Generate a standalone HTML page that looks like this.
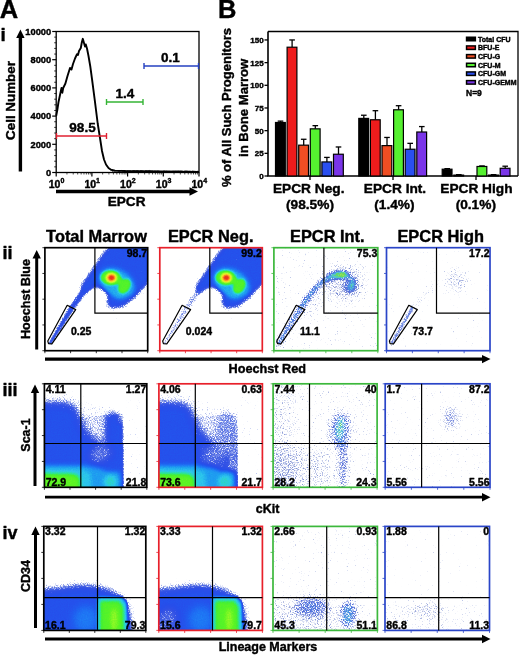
<!DOCTYPE html><html><head><meta charset="utf-8"><title>EPCR figure</title><style>html,body{margin:0;padding:0;background:#fff}svg{display:block}text{stroke:#000;stroke-width:.4px;stroke-linejoin:round}</style></head><body>
<svg width="520" height="656" viewBox="0 0 520 656" font-family="Liberation Sans, Arial, Helvetica, sans-serif" font-weight="bold" fill="#000">
<rect width="520" height="656" fill="#fff"/>
<defs>
<filter id="cm" x="0" y="0" width="1" height="1" color-interpolation-filters="sRGB"><feTurbulence type="fractalNoise" baseFrequency="0.85" numOctaves="2" seed="7" result="n"/><feColorMatrix in="n" type="matrix" values="1 0 0 0 0  1 0 0 0 0  1 0 0 0 0  0 0 0 0 1" result="n1"/><feColorMatrix in="n" type="matrix" values="0 1 0 0 0  0 1 0 0 0  0 1 0 0 0  0 0 0 0 1" result="n2"/><feColorMatrix in="SourceGraphic" type="matrix" values="1 0 0 0 0  1 0 0 0 0  1 0 0 0 0  0 0 0 0 1" result="sm"/><feColorMatrix in="SourceGraphic" type="matrix" values="0 1 0 0 0  0 1 0 0 0  0 1 0 0 0  0 0 0 0 1" result="sc"/><feComposite in="sm" in2="n1" operator="arithmetic" k1="0" k2="1" k3="0.3" k4="-0.15" result="d"/><feColorMatrix in="d" type="matrix" values="0 0 0 0 1  0 0 0 0 1  0 0 0 0 1  1 0 0 0 0" result="da"/><feComponentTransfer in="da" result="m"><feFuncA type="table" tableValues="0 0 0 0.55 1 1 1 1 1 1 1 1 1 1 1 1 1 1 1 1 1"/></feComponentTransfer><feComposite in="sc" in2="n2" operator="arithmetic" k1="0" k2="1" k3="0.04" k4="-0.02" result="dc"/><feComponentTransfer in="dc" result="c"><feFuncR type="table" tableValues="0.490 0.490 0.471 0.392 0.282 0.188 0.149 0.125 0.118 0.118 0.176 0.176 0.275 0.373 0.627 0.882 0.980 0.980 0.941 0.894 0.863"/><feFuncG type="table" tableValues="0.569 0.569 0.549 0.490 0.392 0.314 0.306 0.373 0.471 0.627 0.784 0.894 0.941 0.961 0.980 0.961 0.784 0.510 0.235 0.157 0.118"/><feFuncB type="table" tableValues="0.882 0.882 0.882 0.894 0.894 0.902 0.922 0.941 0.961 0.941 0.922 0.588 0.196 0.137 0.157 0.157 0.157 0.118 0.118 0.118 0.118"/></feComponentTransfer><feComposite in="c" in2="m" operator="in" result="cm"/><feFlood flood-color="#fff" result="w"/><feMerge result="mm"><feMergeNode in="w"/><feMergeNode in="cm"/></feMerge><feGaussianBlur in="mm" stdDeviation="0.4"/></filter>
<filter id="cms" x="0" y="0" width="1" height="1" color-interpolation-filters="sRGB"><feTurbulence type="fractalNoise" baseFrequency="0.85" numOctaves="2" seed="7" result="n"/><feColorMatrix in="n" type="matrix" values="1 0 0 0 0  1 0 0 0 0  1 0 0 0 0  0 0 0 0 1" result="n1"/><feColorMatrix in="n" type="matrix" values="0 1 0 0 0  0 1 0 0 0  0 1 0 0 0  0 0 0 0 1" result="n2"/><feColorMatrix in="SourceGraphic" type="matrix" values="1 0 0 0 0  1 0 0 0 0  1 0 0 0 0  0 0 0 0 1" result="sm"/><feColorMatrix in="SourceGraphic" type="matrix" values="0 1 0 0 0  0 1 0 0 0  0 1 0 0 0  0 0 0 0 1" result="sc"/><feComposite in="sm" in2="n1" operator="arithmetic" k1="0" k2="1" k3="0.42" k4="-0.21" result="d"/><feColorMatrix in="d" type="matrix" values="0 0 0 0 1  0 0 0 0 1  0 0 0 0 1  1 0 0 0 0" result="da"/><feComponentTransfer in="da" result="m"><feFuncA type="table" tableValues="0 0 0 0.5 1 1 1 1 1 1 1 1 1 1 1 1 1 1 1 1 1"/></feComponentTransfer><feComposite in="sc" in2="n2" operator="arithmetic" k1="0" k2="1" k3="0.3" k4="-0.15" result="dc"/><feComponentTransfer in="dc" result="c"><feFuncR type="table" tableValues="0.485 0.485 0.471 0.412 0.329 0.259 0.229 0.212 0.206 0.206 0.250 0.250 0.324 0.397 0.588 0.779 0.853 0.853 0.824 0.788 0.765"/><feFuncG type="table" tableValues="0.554 0.554 0.539 0.495 0.422 0.363 0.357 0.407 0.480 0.598 0.716 0.798 0.833 0.848 0.863 0.848 0.716 0.510 0.304 0.245 0.216"/><feFuncB type="table" tableValues="0.819 0.819 0.819 0.827 0.827 0.833 0.848 0.863 0.877 0.863 0.848 0.598 0.304 0.260 0.275 0.275 0.275 0.245 0.245 0.245 0.245"/></feComponentTransfer><feComposite in="c" in2="m" operator="in" result="cm"/><feFlood flood-color="#fff" result="w"/><feMerge result="mm"><feMergeNode in="w"/><feMergeNode in="cm"/></feMerge><feGaussianBlur in="mm" stdDeviation="0.62"/></filter>
<filter id="b1" x="-50%" y="-50%" width="200%" height="200%" color-interpolation-filters="sRGB"><feGaussianBlur stdDeviation="1"/></filter>
<filter id="b2" x="-50%" y="-50%" width="200%" height="200%" color-interpolation-filters="sRGB"><feGaussianBlur stdDeviation="2"/></filter>
<filter id="b3" x="-50%" y="-50%" width="200%" height="200%" color-interpolation-filters="sRGB"><feGaussianBlur stdDeviation="3"/></filter>
<filter id="b4" x="-50%" y="-50%" width="200%" height="200%" color-interpolation-filters="sRGB"><feGaussianBlur stdDeviation="4"/></filter>
<filter id="b6" x="-50%" y="-50%" width="200%" height="200%" color-interpolation-filters="sRGB"><feGaussianBlur stdDeviation="6"/></filter>
<filter id="b8" x="-50%" y="-50%" width="200%" height="200%" color-interpolation-filters="sRGB"><feGaussianBlur stdDeviation="8"/></filter>
<radialGradient id="rg"><stop offset="0" stop-color="#fff" stop-opacity="1"/><stop offset="0.5" stop-color="#fff" stop-opacity="0.55"/><stop offset="1" stop-color="#fff" stop-opacity="0"/></radialGradient>
</defs>
<text x="-0.3" y="17.5" font-size="25.5" text-anchor="start" >A</text>
<text x="0.6" y="41" font-size="19" text-anchor="start" >i</text>
<rect x="56.2" y="31.5" width="142.8" height="141.0" fill="none" stroke="#000" stroke-width="1.3"/>
<line x1="52.2" y1="31.5" x2="56.2" y2="31.5" stroke="#000" stroke-width="1.2" />
<text x="51.2" y="34.7" font-size="9.3" text-anchor="end" >10000</text>
<line x1="54.2" y1="37.14" x2="56.2" y2="37.14" stroke="#000" stroke-width="0.8" />
<line x1="54.2" y1="42.78" x2="56.2" y2="42.78" stroke="#000" stroke-width="0.8" />
<line x1="54.2" y1="48.42" x2="56.2" y2="48.42" stroke="#000" stroke-width="0.8" />
<line x1="54.2" y1="54.06" x2="56.2" y2="54.06" stroke="#000" stroke-width="0.8" />
<line x1="52.2" y1="59.7" x2="56.2" y2="59.7" stroke="#000" stroke-width="1.2" />
<text x="51.2" y="62.900000000000006" font-size="9.3" text-anchor="end" >8000</text>
<line x1="54.2" y1="65.34" x2="56.2" y2="65.34" stroke="#000" stroke-width="0.8" />
<line x1="54.2" y1="70.98" x2="56.2" y2="70.98" stroke="#000" stroke-width="0.8" />
<line x1="54.2" y1="76.62" x2="56.2" y2="76.62" stroke="#000" stroke-width="0.8" />
<line x1="54.2" y1="82.26" x2="56.2" y2="82.26" stroke="#000" stroke-width="0.8" />
<line x1="52.2" y1="87.9" x2="56.2" y2="87.9" stroke="#000" stroke-width="1.2" />
<text x="51.2" y="91.10000000000001" font-size="9.3" text-anchor="end" >6000</text>
<line x1="54.2" y1="93.54" x2="56.2" y2="93.54" stroke="#000" stroke-width="0.8" />
<line x1="54.2" y1="99.18" x2="56.2" y2="99.18" stroke="#000" stroke-width="0.8" />
<line x1="54.2" y1="104.82000000000001" x2="56.2" y2="104.82000000000001" stroke="#000" stroke-width="0.8" />
<line x1="54.2" y1="110.46000000000001" x2="56.2" y2="110.46000000000001" stroke="#000" stroke-width="0.8" />
<line x1="52.2" y1="116.1" x2="56.2" y2="116.1" stroke="#000" stroke-width="1.2" />
<text x="51.2" y="119.3" font-size="9.3" text-anchor="end" >4000</text>
<line x1="54.2" y1="121.74" x2="56.2" y2="121.74" stroke="#000" stroke-width="0.8" />
<line x1="54.2" y1="127.38" x2="56.2" y2="127.38" stroke="#000" stroke-width="0.8" />
<line x1="54.2" y1="133.01999999999998" x2="56.2" y2="133.01999999999998" stroke="#000" stroke-width="0.8" />
<line x1="54.2" y1="138.66" x2="56.2" y2="138.66" stroke="#000" stroke-width="0.8" />
<line x1="52.2" y1="144.3" x2="56.2" y2="144.3" stroke="#000" stroke-width="1.2" />
<text x="51.2" y="147.5" font-size="9.3" text-anchor="end" >2000</text>
<line x1="54.2" y1="149.94" x2="56.2" y2="149.94" stroke="#000" stroke-width="0.8" />
<line x1="54.2" y1="155.58" x2="56.2" y2="155.58" stroke="#000" stroke-width="0.8" />
<line x1="54.2" y1="161.22" x2="56.2" y2="161.22" stroke="#000" stroke-width="0.8" />
<line x1="54.2" y1="166.86" x2="56.2" y2="166.86" stroke="#000" stroke-width="0.8" />
<line x1="52.2" y1="172.5" x2="56.2" y2="172.5" stroke="#000" stroke-width="1.2" />
<text x="51.2" y="175.7" font-size="9.3" text-anchor="end" >0</text>
<line x1="56.2" y1="172.5" x2="56.2" y2="176.5" stroke="#000" stroke-width="1.2" />
<text x="56.5" y="187.7" font-size="10.5" text-anchor="middle">10<tspan dy="-4.5" font-size="7">0</tspan></text>
<line x1="66.94677084520413" y1="172.5" x2="66.94677084520413" y2="174.5" stroke="#000" stroke-width="0.7" />
<line x1="73.23322879349195" y1="172.5" x2="73.23322879349195" y2="174.5" stroke="#000" stroke-width="0.7" />
<line x1="77.69354169040827" y1="172.5" x2="77.69354169040827" y2="174.5" stroke="#000" stroke-width="0.7" />
<line x1="81.15322915479588" y1="172.5" x2="81.15322915479588" y2="174.5" stroke="#000" stroke-width="0.7" />
<line x1="83.97999963869609" y1="172.5" x2="83.97999963869609" y2="174.5" stroke="#000" stroke-width="0.7" />
<line x1="86.37000002850897" y1="172.5" x2="86.37000002850897" y2="174.5" stroke="#000" stroke-width="0.7" />
<line x1="88.44031253561239" y1="172.5" x2="88.44031253561239" y2="174.5" stroke="#000" stroke-width="0.7" />
<line x1="90.2664575869839" y1="172.5" x2="90.2664575869839" y2="174.5" stroke="#000" stroke-width="0.7" />
<line x1="91.9" y1="172.5" x2="91.9" y2="176.5" stroke="#000" stroke-width="1.2" />
<text x="92.2" y="187.7" font-size="10.5" text-anchor="middle">10<tspan dy="-4.5" font-size="7">1</tspan></text>
<line x1="102.64677084520413" y1="172.5" x2="102.64677084520413" y2="174.5" stroke="#000" stroke-width="0.7" />
<line x1="108.93322879349196" y1="172.5" x2="108.93322879349196" y2="174.5" stroke="#000" stroke-width="0.7" />
<line x1="113.39354169040827" y1="172.5" x2="113.39354169040827" y2="174.5" stroke="#000" stroke-width="0.7" />
<line x1="116.85322915479588" y1="172.5" x2="116.85322915479588" y2="174.5" stroke="#000" stroke-width="0.7" />
<line x1="119.67999963869609" y1="172.5" x2="119.67999963869609" y2="174.5" stroke="#000" stroke-width="0.7" />
<line x1="122.07000002850897" y1="172.5" x2="122.07000002850897" y2="174.5" stroke="#000" stroke-width="0.7" />
<line x1="124.1403125356124" y1="172.5" x2="124.1403125356124" y2="174.5" stroke="#000" stroke-width="0.7" />
<line x1="125.9664575869839" y1="172.5" x2="125.9664575869839" y2="174.5" stroke="#000" stroke-width="0.7" />
<line x1="127.60000000000001" y1="172.5" x2="127.60000000000001" y2="176.5" stroke="#000" stroke-width="1.2" />
<text x="127.9" y="187.7" font-size="10.5" text-anchor="middle">10<tspan dy="-4.5" font-size="7">2</tspan></text>
<line x1="138.34677084520413" y1="172.5" x2="138.34677084520413" y2="174.5" stroke="#000" stroke-width="0.7" />
<line x1="144.63322879349195" y1="172.5" x2="144.63322879349195" y2="174.5" stroke="#000" stroke-width="0.7" />
<line x1="149.09354169040827" y1="172.5" x2="149.09354169040827" y2="174.5" stroke="#000" stroke-width="0.7" />
<line x1="152.55322915479587" y1="172.5" x2="152.55322915479587" y2="174.5" stroke="#000" stroke-width="0.7" />
<line x1="155.3799996386961" y1="172.5" x2="155.3799996386961" y2="174.5" stroke="#000" stroke-width="0.7" />
<line x1="157.77000002850897" y1="172.5" x2="157.77000002850897" y2="174.5" stroke="#000" stroke-width="0.7" />
<line x1="159.84031253561238" y1="172.5" x2="159.84031253561238" y2="174.5" stroke="#000" stroke-width="0.7" />
<line x1="161.6664575869839" y1="172.5" x2="161.6664575869839" y2="174.5" stroke="#000" stroke-width="0.7" />
<line x1="163.3" y1="172.5" x2="163.3" y2="176.5" stroke="#000" stroke-width="1.2" />
<text x="163.60000000000002" y="187.7" font-size="10.5" text-anchor="middle">10<tspan dy="-4.5" font-size="7">3</tspan></text>
<line x1="174.04677084520415" y1="172.5" x2="174.04677084520415" y2="174.5" stroke="#000" stroke-width="0.7" />
<line x1="180.33322879349197" y1="172.5" x2="180.33322879349197" y2="174.5" stroke="#000" stroke-width="0.7" />
<line x1="184.79354169040826" y1="172.5" x2="184.79354169040826" y2="174.5" stroke="#000" stroke-width="0.7" />
<line x1="188.2532291547959" y1="172.5" x2="188.2532291547959" y2="174.5" stroke="#000" stroke-width="0.7" />
<line x1="191.07999963869608" y1="172.5" x2="191.07999963869608" y2="174.5" stroke="#000" stroke-width="0.7" />
<line x1="193.470000028509" y1="172.5" x2="193.470000028509" y2="174.5" stroke="#000" stroke-width="0.7" />
<line x1="195.5403125356124" y1="172.5" x2="195.5403125356124" y2="174.5" stroke="#000" stroke-width="0.7" />
<line x1="197.36645758698393" y1="172.5" x2="197.36645758698393" y2="174.5" stroke="#000" stroke-width="0.7" />
<line x1="199.0" y1="172.5" x2="199.0" y2="176.5" stroke="#000" stroke-width="1.2" />
<text x="199.3" y="187.7" font-size="10.5" text-anchor="middle">10<tspan dy="-4.5" font-size="7">4</tspan></text>
<polyline fill="none" stroke="#000" stroke-width="1.9" stroke-linejoin="round" points="56.2,115.8 57.3,110 58.5,102 60,95 61.5,88 62.3,92.7 63.2,88 65.4,83.5 67.5,76 70,68 71.5,69.6 73,64 75,58.5 77,54.2 78,55 79,51 80.8,48 81.8,42.5 82.8,38.8 84,43 85,46.5 85.8,44.5 87,48.5 88.5,56 90.3,66.5 92,79 94.6,98.8 97.7,123.5 100,138 102,151 104,159.5 106,164.5 108.5,168 111,169.8 115,170.6 125,171 140,171.2 160,171.5 199,172"/>
<polyline fill="none" stroke="#000" stroke-width="0.8" points="112.0,171.3 113.3,170.9 114.6,171.2 115.9,170.9 117.2,170.8 118.5,171.5 119.8,171.6 121.1,170.6 122.4,171.3 123.7,171.3 125.0,170.4 126.3,171.0 127.6,170.6 128.9,171.0 130.2,170.8 131.5,171.4 132.8,170.8 134.1,170.6 135.4,171.0 136.7,170.7 138.0,170.8 139.3,171.5 140.6,170.7 141.9,170.9 143.2,171.2 144.5,171.6 145.8,170.6 147.1,171.0 148.4,170.7 149.7,170.5 151.0,171.2 152.3,171.0 153.6,171.4 154.9,171.1 156.2,171.3 157.5,171.0 158.8,171.1 160.1,171.5 161.4,171.5 162.7,171.5 164.0,171.0 165.3,171.3 166.6,171.2 167.9,171.4 169.2,171.3 170.5,171.4 171.8,171.4 173.1,171.2 174.4,171.2 175.7,171.1 177.0,171.2 178.3,171.0 179.6,171.1 180.9,171.0 182.2,171.2 183.5,171.5 184.8,171.1 186.1,171.0 187.4,171.1 188.7,171.3 190.0,171.2 191.3,171.5 192.6,171.1 193.9,171.3 195.2,171.4 196.5,171.6 197.8,171.1"/>
<line x1="56.5" y1="136" x2="106.5" y2="136" stroke="#e02030" stroke-width="1.7" />
<line x1="56.5" y1="133" x2="56.5" y2="139" stroke="#e02030" stroke-width="1.4" />
<line x1="106.5" y1="133" x2="106.5" y2="139" stroke="#e02030" stroke-width="1.4" />
<text x="82.5" y="132.4" font-size="13.5" text-anchor="middle" >98.5</text>
<line x1="106.5" y1="102" x2="143" y2="102" stroke="#35b535" stroke-width="1.7" />
<line x1="106.5" y1="99" x2="106.5" y2="105" stroke="#35b535" stroke-width="1.4" />
<line x1="143" y1="99" x2="143" y2="105" stroke="#35b535" stroke-width="1.4" />
<text x="125" y="98.4" font-size="13.5" text-anchor="middle" >1.4</text>
<line x1="144" y1="66" x2="198.5" y2="66" stroke="#2540c0" stroke-width="1.7" />
<line x1="144" y1="63" x2="144" y2="69" stroke="#2540c0" stroke-width="1.4" />
<line x1="198.5" y1="63" x2="198.5" y2="69" stroke="#2540c0" stroke-width="1.4" />
<text x="170.5" y="62.4" font-size="13.5" text-anchor="middle" >0.1</text>
<line x1="20.4" y1="171.5" x2="20.4" y2="37.0" stroke="#000" stroke-width="3.4" />
<polygon points="20.4,29.5 16.2,38.0 24.599999999999998,38.0" fill="#000"/>
<line x1="56" y1="191.5" x2="190.5" y2="191.5" stroke="#000" stroke-width="3.4" />
<polygon points="198,191.5 189.5,187.3 189.5,195.7" fill="#000"/>
<text x="126.6" y="205.5" font-size="13.6" text-anchor="middle" >EPCR</text>
<text transform="translate(15.3 100.5) rotate(-90)" font-size="13.4" text-anchor="middle">Cell Number</text>
<text x="218" y="17.5" font-size="25.5" text-anchor="start" >B</text>
<path d="M268,31.5 H518 V176" fill="none" stroke="#000" stroke-width="1.3"/>
<line x1="268" y1="31.5" x2="268" y2="176" stroke="#000" stroke-width="1.6" />
<line x1="267.2" y1="176" x2="518" y2="176" stroke="#000" stroke-width="1.6" />
<line x1="264.5" y1="176.0" x2="268" y2="176.0" stroke="#000" stroke-width="1.3" />
<text x="263.7" y="179.0" font-size="8" text-anchor="end" >0</text>
<line x1="264.5" y1="153.325" x2="268" y2="153.325" stroke="#000" stroke-width="1.3" />
<text x="263.7" y="156.325" font-size="8" text-anchor="end" >25</text>
<line x1="264.5" y1="130.65" x2="268" y2="130.65" stroke="#000" stroke-width="1.3" />
<text x="263.7" y="133.65" font-size="8" text-anchor="end" >50</text>
<line x1="264.5" y1="107.975" x2="268" y2="107.975" stroke="#000" stroke-width="1.3" />
<text x="263.7" y="110.975" font-size="8" text-anchor="end" >75</text>
<line x1="264.5" y1="85.3" x2="268" y2="85.3" stroke="#000" stroke-width="1.3" />
<text x="263.7" y="88.3" font-size="8" text-anchor="end" >100</text>
<line x1="264.5" y1="62.625" x2="268" y2="62.625" stroke="#000" stroke-width="1.3" />
<text x="263.7" y="65.625" font-size="8" text-anchor="end" >125</text>
<line x1="264.5" y1="39.94999999999999" x2="268" y2="39.94999999999999" stroke="#000" stroke-width="1.3" />
<text x="263.7" y="42.94999999999999" font-size="8" text-anchor="end" >150</text>
<line x1="280.5" y1="122.487" x2="280.5" y2="121.1265" stroke="#000" stroke-width="1.3" />
<line x1="277.7" y1="121.1265" x2="283.3" y2="121.1265" stroke="#000" stroke-width="1.3" />
<rect x="275.50" y="122.49" width="9.8" height="53.51" fill="#000000" stroke="#000" stroke-width="1.2"/>
<line x1="292.1" y1="47.20599999999999" x2="292.1" y2="39.94999999999999" stroke="#000" stroke-width="1.3" />
<line x1="289.3" y1="39.94999999999999" x2="294.90000000000003" y2="39.94999999999999" stroke="#000" stroke-width="1.3" />
<rect x="287.10" y="47.21" width="9.8" height="128.79" fill="#ee1c1c" stroke="#000" stroke-width="1.2"/>
<line x1="303.7" y1="145.162" x2="303.7" y2="139.2665" stroke="#000" stroke-width="1.3" />
<line x1="300.9" y1="139.2665" x2="306.5" y2="139.2665" stroke="#000" stroke-width="1.3" />
<rect x="298.70" y="145.16" width="9.8" height="30.84" fill="#f04e23" stroke="#000" stroke-width="1.2"/>
<line x1="315.3" y1="128.836" x2="315.3" y2="125.66149999999999" stroke="#000" stroke-width="1.3" />
<line x1="312.5" y1="125.66149999999999" x2="318.1" y2="125.66149999999999" stroke="#000" stroke-width="1.3" />
<rect x="310.30" y="128.84" width="9.8" height="47.16" fill="#55f030" stroke="#000" stroke-width="1.2"/>
<line x1="326.9" y1="161.9415" x2="326.9" y2="157.4065" stroke="#000" stroke-width="1.3" />
<line x1="324.09999999999997" y1="157.4065" x2="329.7" y2="157.4065" stroke="#000" stroke-width="1.3" />
<rect x="321.90" y="161.94" width="9.8" height="14.06" fill="#2a4ff0" stroke="#000" stroke-width="1.2"/>
<line x1="338.5" y1="154.232" x2="338.5" y2="146.976" stroke="#000" stroke-width="1.3" />
<line x1="335.7" y1="146.976" x2="341.3" y2="146.976" stroke="#000" stroke-width="1.3" />
<rect x="333.50" y="154.23" width="9.8" height="21.77" fill="#7a35e8" stroke="#000" stroke-width="1.2"/>
<line x1="363.8" y1="118.40549999999999" x2="363.8" y2="115.231" stroke="#000" stroke-width="1.3" />
<line x1="361.0" y1="115.231" x2="366.6" y2="115.231" stroke="#000" stroke-width="1.3" />
<rect x="358.80" y="118.41" width="9.8" height="57.59" fill="#000000" stroke="#000" stroke-width="1.2"/>
<line x1="375.40000000000003" y1="119.76599999999999" x2="375.40000000000003" y2="110.696" stroke="#000" stroke-width="1.3" />
<line x1="372.6" y1="110.696" x2="378.20000000000005" y2="110.696" stroke="#000" stroke-width="1.3" />
<rect x="370.40" y="119.77" width="9.8" height="56.23" fill="#ee1c1c" stroke="#000" stroke-width="1.2"/>
<line x1="387.0" y1="145.6155" x2="387.0" y2="137.4525" stroke="#000" stroke-width="1.3" />
<line x1="384.2" y1="137.4525" x2="389.8" y2="137.4525" stroke="#000" stroke-width="1.3" />
<rect x="382.00" y="145.62" width="9.8" height="30.38" fill="#f04e23" stroke="#000" stroke-width="1.2"/>
<line x1="398.6" y1="109.789" x2="398.6" y2="105.7075" stroke="#000" stroke-width="1.3" />
<line x1="395.8" y1="105.7075" x2="401.40000000000003" y2="105.7075" stroke="#000" stroke-width="1.3" />
<rect x="393.60" y="109.79" width="9.8" height="66.21" fill="#55f030" stroke="#000" stroke-width="1.2"/>
<line x1="410.2" y1="149.24349999999998" x2="410.2" y2="143.348" stroke="#000" stroke-width="1.3" />
<line x1="407.4" y1="143.348" x2="413.0" y2="143.348" stroke="#000" stroke-width="1.3" />
<rect x="405.20" y="149.24" width="9.8" height="26.76" fill="#2a4ff0" stroke="#000" stroke-width="1.2"/>
<line x1="421.8" y1="132.0105" x2="421.8" y2="126.5685" stroke="#000" stroke-width="1.3" />
<line x1="419.0" y1="126.5685" x2="424.6" y2="126.5685" stroke="#000" stroke-width="1.3" />
<rect x="416.80" y="132.01" width="9.8" height="43.99" fill="#7a35e8" stroke="#000" stroke-width="1.2"/>
<line x1="447.2" y1="169.1975" x2="447.2" y2="168.6533" stroke="#000" stroke-width="1.3" />
<line x1="444.4" y1="168.6533" x2="450.0" y2="168.6533" stroke="#000" stroke-width="1.3" />
<rect x="442.20" y="169.20" width="9.8" height="6.80" fill="#000000" stroke="#000" stroke-width="1.2"/>
<line x1="458.8" y1="175.093" x2="458.8" y2="174.6395" stroke="#000" stroke-width="1.3" />
<line x1="456.0" y1="174.6395" x2="461.6" y2="174.6395" stroke="#000" stroke-width="1.3" />
<rect x="453.80" y="175.09" width="9.8" height="0.91" fill="#ee1c1c" stroke="#000" stroke-width="1.2"/>
<line x1="482.0" y1="166.4765" x2="482.0" y2="165.9323" stroke="#000" stroke-width="1.3" />
<line x1="479.2" y1="165.9323" x2="484.8" y2="165.9323" stroke="#000" stroke-width="1.3" />
<rect x="477.00" y="166.48" width="9.8" height="9.52" fill="#55f030" stroke="#000" stroke-width="1.2"/>
<line x1="493.59999999999997" y1="175.093" x2="493.59999999999997" y2="174.6395" stroke="#000" stroke-width="1.3" />
<line x1="490.79999999999995" y1="174.6395" x2="496.4" y2="174.6395" stroke="#000" stroke-width="1.3" />
<rect x="488.60" y="175.09" width="9.8" height="0.91" fill="#2a4ff0" stroke="#000" stroke-width="1.2"/>
<line x1="505.2" y1="168.2905" x2="505.2" y2="166.2044" stroke="#000" stroke-width="1.3" />
<line x1="502.4" y1="166.2044" x2="508.0" y2="166.2044" stroke="#000" stroke-width="1.3" />
<rect x="500.20" y="168.29" width="9.8" height="7.71" fill="#7a35e8" stroke="#000" stroke-width="1.2"/>
<line x1="310" y1="176" x2="310" y2="180" stroke="#000" stroke-width="1.3" />
<line x1="393" y1="176" x2="393" y2="180" stroke="#000" stroke-width="1.3" />
<line x1="476" y1="176" x2="476" y2="180" stroke="#000" stroke-width="1.3" />
<text x="308.7" y="192.7" font-size="13.7" text-anchor="middle" >EPCR Neg.</text>
<text x="310" y="209.2" font-size="13.7" text-anchor="middle" >(98.5%)</text>
<text x="395" y="192.7" font-size="13.7" text-anchor="middle" >EPCR Int.</text>
<text x="394.4" y="209.2" font-size="13.7" text-anchor="middle" >(1.4%)</text>
<text x="476.4" y="192.7" font-size="13.7" text-anchor="middle" >EPCR High</text>
<text x="475.8" y="209.2" font-size="13.7" text-anchor="middle" >(0.1%)</text>
<text transform="translate(231.3 107.5) rotate(-90)" font-size="13" text-anchor="middle">% of All Such Progenitors</text>
<text transform="translate(248.3 107.8) rotate(-90)" font-size="13.1" text-anchor="middle">in Bone Marrow</text>
<rect x="465.8" y="36.50" width="10.3" height="5" fill="#000"/>
<text x="478" y="41.5" font-size="7" text-anchor="start" >Total CFU</text>
<rect x="465.8" y="45.17" width="10.3" height="5" fill="#000"/>
<rect x="467.3" y="46.67" width="7.3" height="2" fill="#ee1c1c"/>
<text x="478" y="50.17" font-size="7" text-anchor="start" >BFU-E</text>
<rect x="465.8" y="53.84" width="10.3" height="5" fill="#000"/>
<rect x="467.3" y="55.34" width="7.3" height="2" fill="#f04e23"/>
<text x="478" y="58.84" font-size="7" text-anchor="start" >CFU-G</text>
<rect x="465.8" y="62.51" width="10.3" height="5" fill="#000"/>
<rect x="467.3" y="64.01" width="7.3" height="2" fill="#55f030"/>
<text x="478" y="67.50999999999999" font-size="7" text-anchor="start" >CFU-M</text>
<rect x="465.8" y="71.18" width="10.3" height="5" fill="#000"/>
<rect x="467.3" y="72.68" width="7.3" height="2" fill="#2a4ff0"/>
<text x="478" y="76.18" font-size="7" text-anchor="start" >CFU-GM</text>
<rect x="465.8" y="79.85" width="10.3" height="5" fill="#000"/>
<rect x="467.3" y="81.35" width="7.3" height="2" fill="#7a35e8"/>
<text x="478" y="84.85" font-size="7" text-anchor="start" >CFU-GEMM</text>
<text x="466" y="96" font-size="8.5" text-anchor="start" >N=9</text>
<text x="2.5" y="259" font-size="18" text-anchor="start" >ii</text>
<line x1="36.7" y1="349.5" x2="36.7" y2="257.5" stroke="#000" stroke-width="3" />
<polygon points="36.7,250 32.5,258.5 40.900000000000006,258.5" fill="#000"/>
<text transform="translate(30 299) rotate(-90)" font-size="12.5" text-anchor="middle">Hoechst Blue</text>
<line x1="45" y1="359.1" x2="483.0" y2="359.1" stroke="#000" stroke-width="3.2" />
<polygon points="490.5,359.1 482.0,354.90000000000003 482.0,363.3" fill="#000"/>
<text x="267.3" y="372.9" font-size="12.7" text-anchor="middle" >Hoechst Red</text>
<text x="96.5" y="242.2" font-size="16.4" text-anchor="middle" >Total Marrow</text>
<text x="210.7" y="242.2" font-size="16.4" text-anchor="middle" >EPCR Neg.</text>
<text x="327.3" y="242.2" font-size="16.4" text-anchor="middle" >EPCR Int.</text>
<text x="440.7" y="242.2" font-size="16.4" text-anchor="middle" >EPCR High</text>
<svg x="44.9" y="247.7" width="102.8" height="103" viewBox="0 0 102.8 103" overflow="hidden" opacity="1"><g filter="url(#cm)"><rect x="-5" y="-5" width="112.8" height="113" fill="#000"/>
<polygon points="3,95.5 24.5,58.5 34.5,44 42,35 48,39 39.5,48 29.5,61.5 6,97.5" fill="rgb(68,68,68)" opacity="1" filter="url(#b1)"/>
<polygon points="38,46 46,41 56,39.5 63,45 61.5,56 66,61 78,59.5 90,50 106,33 106,-5 67,-5 57.5,6 48.5,19.5 40,31.5 35,40" fill="rgb(79,79,79)" opacity="1" filter="url(#b2)"/>
<ellipse cx="72" cy="35" rx="19.5" ry="13.5" fill="rgb(119,119,119)" transform="rotate(30 72 35)" filter="url(#b2)"/>
<ellipse cx="74.5" cy="43.5" rx="7.5" ry="7.5" fill="rgb(119,119,119)" transform="rotate(0 74.5 43.5)" filter="url(#b2)"/>
<ellipse cx="66" cy="30" rx="10.5" ry="7.6" fill="rgb(160,160,160)" transform="rotate(5 66 30)" filter="url(#b1)"/>
<ellipse cx="79.5" cy="38.5" rx="5.6" ry="8" fill="rgb(160,160,160)" transform="rotate(32 79.5 38.5)" filter="url(#b1)"/>
<ellipse cx="74.5" cy="33.5" rx="4.5" ry="3.6" fill="rgb(160,160,160)" transform="rotate(35 74.5 33.5)" filter="url(#b1)"/>
<ellipse cx="66.5" cy="30" rx="6" ry="5.2" fill="rgb(196,196,196)" transform="rotate(0 66.5 30)" filter="url(#b1)"/>
<ellipse cx="66.5" cy="30" rx="3.1" ry="2.7" fill="rgb(237,237,237)" transform="rotate(0 66.5 30)" filter="url(#b1)"/>
</g></svg>
<line x1="42.4" y1="247.7" x2="44.9" y2="247.7" stroke="#000" stroke-width="0.8" />
<line x1="44.9" y1="350.7" x2="44.9" y2="353.2" stroke="#000" stroke-width="0.8" />
<line x1="42.4" y1="273.45" x2="44.9" y2="273.45" stroke="#000" stroke-width="0.8" />
<line x1="70.6" y1="350.7" x2="70.6" y2="353.2" stroke="#000" stroke-width="0.8" />
<line x1="42.4" y1="299.2" x2="44.9" y2="299.2" stroke="#000" stroke-width="0.8" />
<line x1="96.3" y1="350.7" x2="96.3" y2="353.2" stroke="#000" stroke-width="0.8" />
<line x1="42.4" y1="324.95" x2="44.9" y2="324.95" stroke="#000" stroke-width="0.8" />
<line x1="122.0" y1="350.7" x2="122.0" y2="353.2" stroke="#000" stroke-width="0.8" />
<line x1="42.4" y1="350.7" x2="44.9" y2="350.7" stroke="#000" stroke-width="0.8" />
<line x1="147.7" y1="350.7" x2="147.7" y2="353.2" stroke="#000" stroke-width="0.8" />
<rect x="44.9" y="247.7" width="102.8" height="103" fill="none" stroke="#000" stroke-width="1.7"/>
<path d="M94.9,247.7 V313.2 H147.7" fill="none" stroke="#000" stroke-width="1.2"/>
<polygon points="67.2,305.3 75.7,309.6 51.9,343.8 48.5,343.6 47.8,341" fill="none" stroke="#000" stroke-width="1.2" stroke-linejoin="round"/>
<text x="147.2" y="257" font-size="10.5" text-anchor="end" >98.7</text>
<text x="70.9" y="335.3" font-size="10.5" text-anchor="start" >0.25</text>
<svg x="159.8" y="247.7" width="102.5" height="103" viewBox="0 0 102.5 103" overflow="hidden" opacity="1"><g filter="url(#cm)"><rect x="-5" y="-5" width="112.5" height="113" fill="#000"/>
<polygon points="3,95.5 24.5,58.5 34.5,44 42,35 48,39 39.5,48 29.5,61.5 6,97.5" fill="rgb(37,37,37)" opacity="1" filter="url(#b1)"/>
<polygon points="38,46 46,41 56,39.5 63,45 61.5,56 66,61 78,59.5 90,50 106,33 106,-5 67,-5 57.5,6 48.5,19.5 40,31.5 35,40" fill="rgb(79,79,79)" opacity="1" filter="url(#b2)"/>
<ellipse cx="72" cy="35" rx="19.5" ry="13.5" fill="rgb(119,119,119)" transform="rotate(30 72 35)" filter="url(#b2)"/>
<ellipse cx="74.5" cy="43.5" rx="7.5" ry="7.5" fill="rgb(119,119,119)" transform="rotate(0 74.5 43.5)" filter="url(#b2)"/>
<ellipse cx="66" cy="30" rx="10.5" ry="7.6" fill="rgb(160,160,160)" transform="rotate(5 66 30)" filter="url(#b1)"/>
<ellipse cx="79.5" cy="38.5" rx="5.6" ry="8" fill="rgb(160,160,160)" transform="rotate(32 79.5 38.5)" filter="url(#b1)"/>
<ellipse cx="74.5" cy="33.5" rx="4.5" ry="3.6" fill="rgb(160,160,160)" transform="rotate(35 74.5 33.5)" filter="url(#b1)"/>
<ellipse cx="66.5" cy="30" rx="6" ry="5.2" fill="rgb(196,196,196)" transform="rotate(0 66.5 30)" filter="url(#b1)"/>
<ellipse cx="66.5" cy="30" rx="3.1" ry="2.7" fill="rgb(237,237,237)" transform="rotate(0 66.5 30)" filter="url(#b1)"/>
</g></svg>
<line x1="157.3" y1="247.7" x2="159.8" y2="247.7" stroke="#e8202a" stroke-width="0.8" />
<line x1="159.8" y1="350.7" x2="159.8" y2="353.2" stroke="#e8202a" stroke-width="0.8" />
<line x1="157.3" y1="273.45" x2="159.8" y2="273.45" stroke="#e8202a" stroke-width="0.8" />
<line x1="185.425" y1="350.7" x2="185.425" y2="353.2" stroke="#e8202a" stroke-width="0.8" />
<line x1="157.3" y1="299.2" x2="159.8" y2="299.2" stroke="#e8202a" stroke-width="0.8" />
<line x1="211.05" y1="350.7" x2="211.05" y2="353.2" stroke="#e8202a" stroke-width="0.8" />
<line x1="157.3" y1="324.95" x2="159.8" y2="324.95" stroke="#e8202a" stroke-width="0.8" />
<line x1="236.675" y1="350.7" x2="236.675" y2="353.2" stroke="#e8202a" stroke-width="0.8" />
<line x1="157.3" y1="350.7" x2="159.8" y2="350.7" stroke="#e8202a" stroke-width="0.8" />
<line x1="262.3" y1="350.7" x2="262.3" y2="353.2" stroke="#e8202a" stroke-width="0.8" />
<rect x="159.8" y="247.7" width="102.5" height="103" fill="none" stroke="#e8202a" stroke-width="1.7"/>
<path d="M209.8,247.7 V313.2 H262.3" fill="none" stroke="#000" stroke-width="1.2"/>
<polygon points="182.10000000000002,305.3 190.60000000000002,309.6 166.8,343.8 163.4,343.6 162.70000000000002,341" fill="none" stroke="#000" stroke-width="1.2" stroke-linejoin="round"/>
<text x="261.8" y="257" font-size="10.5" text-anchor="end" >99.2</text>
<text x="185.8" y="335.3" font-size="10.5" text-anchor="start" >0.024</text>
<svg x="273.9" y="247.7" width="103.9" height="103" viewBox="0 0 103.9 103" overflow="hidden" opacity="0.88"><g filter="url(#cms)"><rect x="-5" y="-5" width="113.9" height="113" fill="#000"/>
<polygon points="-5,-5 110,-5 110,110 -5,110" fill="rgb(255,255,255)" opacity="0.02"/>
<path d="M4.5,96 C20,72 30,52 42,40 S60,27 70,27" fill="none" stroke="rgb(116,255,0)" stroke-opacity="0.46" stroke-width="5.5" stroke-linecap="round" filter="url(#b2)"/>
<path d="M66,27 C77,27 83,35 77,40" fill="none" stroke="rgb(91,255,0)" stroke-opacity="0.42" stroke-width="5" stroke-linecap="round" filter="url(#b2)"/>
<ellipse cx="64" cy="27" rx="9" ry="4" fill="rgb(115,255,0)" opacity="0.22" transform="rotate(-5 64 27)" filter="url(#b2)"/>
<ellipse cx="75.5" cy="39.5" rx="6.5" ry="6" fill="rgb(162,255,0)" opacity="0.22" transform="rotate(30 75.5 39.5)" filter="url(#b2)"/>
<ellipse cx="70" cy="35" rx="21" ry="18" fill="#fff" opacity="0.095" transform="rotate(0 70 35)" filter="url(#b4)"/>
<ellipse cx="40" cy="55" rx="18" ry="8" fill="#fff" opacity="0.05" transform="rotate(-50 40 55)" filter="url(#b4)"/>
</g></svg>
<line x1="271.4" y1="247.7" x2="273.9" y2="247.7" stroke="#3cb83c" stroke-width="0.8" />
<line x1="273.9" y1="350.7" x2="273.9" y2="353.2" stroke="#3cb83c" stroke-width="0.8" />
<line x1="271.4" y1="273.45" x2="273.9" y2="273.45" stroke="#3cb83c" stroke-width="0.8" />
<line x1="299.875" y1="350.7" x2="299.875" y2="353.2" stroke="#3cb83c" stroke-width="0.8" />
<line x1="271.4" y1="299.2" x2="273.9" y2="299.2" stroke="#3cb83c" stroke-width="0.8" />
<line x1="325.84999999999997" y1="350.7" x2="325.84999999999997" y2="353.2" stroke="#3cb83c" stroke-width="0.8" />
<line x1="271.4" y1="324.95" x2="273.9" y2="324.95" stroke="#3cb83c" stroke-width="0.8" />
<line x1="351.825" y1="350.7" x2="351.825" y2="353.2" stroke="#3cb83c" stroke-width="0.8" />
<line x1="271.4" y1="350.7" x2="273.9" y2="350.7" stroke="#3cb83c" stroke-width="0.8" />
<line x1="377.79999999999995" y1="350.7" x2="377.79999999999995" y2="353.2" stroke="#3cb83c" stroke-width="0.8" />
<rect x="273.9" y="247.7" width="103.9" height="103" fill="none" stroke="#3cb83c" stroke-width="1.7"/>
<path d="M323.9,247.7 V313.2 H377.79999999999995" fill="none" stroke="#000" stroke-width="1.2"/>
<polygon points="296.2,305.3 304.7,309.6 280.9,343.8 277.5,343.6 276.79999999999995,341" fill="none" stroke="#000" stroke-width="1.2" stroke-linejoin="round"/>
<text x="377.29999999999995" y="257" font-size="10.5" text-anchor="end" >75.3</text>
<text x="299.9" y="335.3" font-size="10.5" text-anchor="start" >11.1</text>
<svg x="386.5" y="247.7" width="103.5" height="103" viewBox="0 0 103.5 103" overflow="hidden" opacity="0.72"><g filter="url(#cms)"><rect x="-5" y="-5" width="113.5" height="113" fill="#000"/>
<path d="M5,96 L26,60" fill="none" stroke="rgb(170,255,0)" stroke-opacity="0.36" stroke-width="3.4" stroke-linecap="round" filter="url(#b1)"/>
<path d="M26,60 L52,34" fill="none" stroke="#fff" stroke-opacity="0.11" stroke-width="3.5" stroke-linecap="round" filter="url(#b2)"/>
<ellipse cx="70" cy="33" rx="11" ry="14" fill="#fff" opacity="0.1" transform="rotate(-20 70 33)" filter="url(#b4)"/>
</g></svg>
<line x1="384.0" y1="247.7" x2="386.5" y2="247.7" stroke="#2a45c8" stroke-width="0.8" />
<line x1="386.5" y1="350.7" x2="386.5" y2="353.2" stroke="#2a45c8" stroke-width="0.8" />
<line x1="384.0" y1="273.45" x2="386.5" y2="273.45" stroke="#2a45c8" stroke-width="0.8" />
<line x1="412.375" y1="350.7" x2="412.375" y2="353.2" stroke="#2a45c8" stroke-width="0.8" />
<line x1="384.0" y1="299.2" x2="386.5" y2="299.2" stroke="#2a45c8" stroke-width="0.8" />
<line x1="438.25" y1="350.7" x2="438.25" y2="353.2" stroke="#2a45c8" stroke-width="0.8" />
<line x1="384.0" y1="324.95" x2="386.5" y2="324.95" stroke="#2a45c8" stroke-width="0.8" />
<line x1="464.125" y1="350.7" x2="464.125" y2="353.2" stroke="#2a45c8" stroke-width="0.8" />
<line x1="384.0" y1="350.7" x2="386.5" y2="350.7" stroke="#2a45c8" stroke-width="0.8" />
<line x1="490.0" y1="350.7" x2="490.0" y2="353.2" stroke="#2a45c8" stroke-width="0.8" />
<rect x="386.5" y="247.7" width="103.5" height="103" fill="none" stroke="#2a45c8" stroke-width="1.7"/>
<path d="M436.5,247.7 V313.2 H490.0" fill="none" stroke="#000" stroke-width="1.2"/>
<polygon points="408.8,305.3 417.3,309.6 393.5,343.8 390.1,343.6 389.4,341" fill="none" stroke="#000" stroke-width="1.2" stroke-linejoin="round"/>
<text x="489.5" y="257" font-size="10.5" text-anchor="end" >17.2</text>
<text x="412.5" y="335.3" font-size="10.5" text-anchor="start" >73.7</text>
<text x="2.5" y="395.5" font-size="18" text-anchor="start" >iii</text>
<line x1="35" y1="486" x2="35" y2="392.0" stroke="#000" stroke-width="3" />
<polygon points="35,384.5 30.8,393.0 39.2,393.0" fill="#000"/>
<text transform="translate(29.5 435) rotate(-90)" font-size="12.5" text-anchor="middle">Sca-1</text>
<line x1="45" y1="497.2" x2="483.0" y2="497.2" stroke="#000" stroke-width="2.7" />
<polygon points="490.5,497.2 482.0,493.0 482.0,501.4" fill="#000"/>
<text x="267.5" y="513.3" font-size="12.5" text-anchor="middle" >cKit</text>
<svg x="44.4" y="383.8" width="102.4" height="103.5" viewBox="0 0 102.4 103.5" overflow="hidden" opacity="1"><g filter="url(#cm)"><rect x="-5" y="-5" width="112.4" height="113.5" fill="#000"/>
<clipPath id="c30"><rect x="-5" y="-5" width="84.3" height="120"/></clipPath><g clip-path="url(#c30)">
<polygon points="-5,8 30,8 44,18 60,22 80,22 80,110 -5,110" fill="rgb(255,255,255)" opacity="0.075" filter="url(#b6)"/>
<polygon points="30,34 80,30 80,110 40,110" fill="rgb(255,255,255)" opacity="0.05" filter="url(#b5)"/>
<polygon points="82,-5 110,-5 110,110 82,110" fill="rgb(255,255,255)" opacity="0.03" filter="url(#b2)"/>
<polygon points="-8,19 10,18.5 24,19.5 31,23 35,33 40,46 48,55 57,59.5 62,61 62,115 -8,115" fill="rgb(79,79,79)" opacity="1" filter="url(#b4)"/>
<polygon points="61.5,36 64,29 72,29 76.5,36 77.5,60 77.5,115 61,115" fill="rgb(79,79,79)" opacity="1" filter="url(#b3)"/>
<polygon points="40,62 77.5,62 77.5,115 40,115" fill="rgb(79,79,79)" opacity="1" filter="url(#b2)"/>
<polygon points="70,40 77.3,40 77.3,115 70,115" fill="rgb(79,79,79)" opacity="1" filter="url(#b1)"/>
<ellipse cx="56" cy="70" rx="11.5" ry="9" fill="rgb(49,49,49)" transform="rotate(-20 56 70)" filter="url(#b3)"/>
<polygon points="-8,81 40,81 55,84 62,87 75,87.5 77,92 77,115 -8,115" fill="rgb(114,114,114)" opacity="1" filter="url(#b2)"/>
<polygon points="-8,84.5 36,85 46,89 48,115 -8,115" fill="rgb(127,127,127)" opacity="1" filter="url(#b2)"/>
<polygon points="-8,90 29,90.5 35,94 36,115 -8,115" fill="rgb(165,165,165)" opacity="1" filter="url(#b2)"/>
<ellipse cx="66" cy="98" rx="7" ry="7" fill="rgb(132,132,132)" transform="rotate(0 66 98)" filter="url(#b2)"/>
</g>
<polygon points="80,-5 110,-5 110,110 80,110" fill="rgb(255,255,255)" opacity="0.035" filter="url(#b1)"/>
</g></svg>
<line x1="41.9" y1="383.8" x2="44.4" y2="383.8" stroke="#000" stroke-width="0.8" />
<line x1="44.4" y1="487.3" x2="44.4" y2="489.8" stroke="#000" stroke-width="0.8" />
<line x1="41.9" y1="409.675" x2="44.4" y2="409.675" stroke="#000" stroke-width="0.8" />
<line x1="70.0" y1="487.3" x2="70.0" y2="489.8" stroke="#000" stroke-width="0.8" />
<line x1="41.9" y1="435.55" x2="44.4" y2="435.55" stroke="#000" stroke-width="0.8" />
<line x1="95.6" y1="487.3" x2="95.6" y2="489.8" stroke="#000" stroke-width="0.8" />
<line x1="41.9" y1="461.425" x2="44.4" y2="461.425" stroke="#000" stroke-width="0.8" />
<line x1="121.20000000000002" y1="487.3" x2="121.20000000000002" y2="489.8" stroke="#000" stroke-width="0.8" />
<line x1="41.9" y1="487.3" x2="44.4" y2="487.3" stroke="#000" stroke-width="0.8" />
<line x1="146.8" y1="487.3" x2="146.8" y2="489.8" stroke="#000" stroke-width="0.8" />
<rect x="44.4" y="383.8" width="102.4" height="103.5" fill="none" stroke="#000" stroke-width="1.7"/>
<line x1="80.8" y1="383.8" x2="80.8" y2="487.3" stroke="#000" stroke-width="1.2" />
<line x1="44.4" y1="443.5" x2="146.8" y2="443.5" stroke="#000" stroke-width="1.2" />
<text x="45.699999999999996" y="392.8" font-size="10.5" text-anchor="start" >4.11</text>
<text x="146.3" y="392.8" font-size="10.5" text-anchor="end" >1.27</text>
<text x="45.699999999999996" y="486.0" font-size="10.5" text-anchor="start" >72.9</text>
<text x="146.3" y="486.0" font-size="10.5" text-anchor="end" >21.8</text>
<svg x="158.9" y="383.8" width="103.5" height="103.5" viewBox="0 0 103.5 103.5" overflow="hidden" opacity="1"><g filter="url(#cm)"><rect x="-5" y="-5" width="113.5" height="113.5" fill="#000"/>
<clipPath id="c31"><rect x="-5" y="-5" width="84.3" height="120"/></clipPath><g clip-path="url(#c31)">
<polygon points="-5,8 30,8 44,18 60,22 80,22 80,110 -5,110" fill="rgb(255,255,255)" opacity="0.075" filter="url(#b6)"/>
<polygon points="30,34 80,30 80,110 40,110" fill="rgb(255,255,255)" opacity="0.05" filter="url(#b5)"/>
<polygon points="82,-5 110,-5 110,110 82,110" fill="rgb(255,255,255)" opacity="0.03" filter="url(#b2)"/>
<polygon points="-8,19 10,18.5 24,19.5 31,23 35,33 40,46 48,55 57,59.5 62,61 62,115 -8,115" fill="rgb(79,79,79)" opacity="1" filter="url(#b4)"/>
<polygon points="61.5,36 64,29 72,29 76.5,36 77.5,60 77.5,115 61,115" fill="rgb(47,47,47)" opacity="1" filter="url(#b3)"/>
<polygon points="40,62 77.5,62 77.5,115 40,115" fill="rgb(63,63,63)" opacity="1" filter="url(#b2)"/>
<polygon points="70,40 77.3,40 77.3,115 70,115" fill="rgb(47,47,47)" opacity="1" filter="url(#b1)"/>
<ellipse cx="56" cy="70" rx="11.5" ry="9" fill="rgb(49,49,49)" transform="rotate(-20 56 70)" filter="url(#b3)"/>
<ellipse cx="66" cy="50" rx="9" ry="20" fill="rgb(43,43,43)" transform="rotate(0 66 50)" filter="url(#b3)"/>
<polygon points="-8,81 40,81 55,84 62,87 75,87.5 77,92 77,115 -8,115" fill="rgb(114,114,114)" opacity="1" filter="url(#b2)"/>
<polygon points="-8,84.5 36,85 46,89 48,115 -8,115" fill="rgb(127,127,127)" opacity="1" filter="url(#b2)"/>
<polygon points="-8,90 29,90.5 35,94 36,115 -8,115" fill="rgb(165,165,165)" opacity="1" filter="url(#b2)"/>
<ellipse cx="66" cy="98" rx="7" ry="7" fill="rgb(132,132,132)" transform="rotate(0 66 98)" filter="url(#b2)"/>
</g>
<polygon points="80,-5 110,-5 110,110 80,110" fill="rgb(255,255,255)" opacity="0.035" filter="url(#b1)"/>
</g></svg>
<line x1="156.4" y1="383.8" x2="158.9" y2="383.8" stroke="#e8202a" stroke-width="0.8" />
<line x1="158.9" y1="487.3" x2="158.9" y2="489.8" stroke="#e8202a" stroke-width="0.8" />
<line x1="156.4" y1="409.675" x2="158.9" y2="409.675" stroke="#e8202a" stroke-width="0.8" />
<line x1="184.775" y1="487.3" x2="184.775" y2="489.8" stroke="#e8202a" stroke-width="0.8" />
<line x1="156.4" y1="435.55" x2="158.9" y2="435.55" stroke="#e8202a" stroke-width="0.8" />
<line x1="210.65" y1="487.3" x2="210.65" y2="489.8" stroke="#e8202a" stroke-width="0.8" />
<line x1="156.4" y1="461.425" x2="158.9" y2="461.425" stroke="#e8202a" stroke-width="0.8" />
<line x1="236.525" y1="487.3" x2="236.525" y2="489.8" stroke="#e8202a" stroke-width="0.8" />
<line x1="156.4" y1="487.3" x2="158.9" y2="487.3" stroke="#e8202a" stroke-width="0.8" />
<line x1="262.4" y1="487.3" x2="262.4" y2="489.8" stroke="#e8202a" stroke-width="0.8" />
<rect x="158.9" y="383.8" width="103.5" height="103.5" fill="none" stroke="#e8202a" stroke-width="1.7"/>
<line x1="195.3" y1="383.8" x2="195.3" y2="487.3" stroke="#000" stroke-width="1.2" />
<line x1="158.9" y1="443.5" x2="262.4" y2="443.5" stroke="#000" stroke-width="1.2" />
<text x="160.20000000000002" y="392.8" font-size="10.5" text-anchor="start" >4.06</text>
<text x="261.9" y="392.8" font-size="10.5" text-anchor="end" >0.63</text>
<text x="160.20000000000002" y="486.0" font-size="10.5" text-anchor="start" >73.6</text>
<text x="261.9" y="486.0" font-size="10.5" text-anchor="end" >21.7</text>
<svg x="273.1" y="383.8" width="104" height="103.5" viewBox="0 0 104 103.5" overflow="hidden" opacity="0.88"><g filter="url(#cms)"><rect x="-5" y="-5" width="114" height="113.5" fill="#000"/>
<polygon points="-5,-5 110,-5 110,110 -5,110" fill="rgb(255,255,255)" opacity="0.03"/>
<ellipse cx="67" cy="46" rx="10.5" ry="19" fill="rgb(115,255,0)" opacity="0.33" transform="rotate(4 67 46)" filter="url(#b4)"/>
<ellipse cx="70" cy="82" rx="4.5" ry="27" fill="rgb(136,255,0)" opacity="0.28" transform="rotate(0 70 82)" filter="url(#b3)"/>
<ellipse cx="67" cy="44" rx="4" ry="12" fill="rgb(42,255,0)" opacity="0.3" transform="rotate(8 67 44)" filter="url(#b2)"/>
<polygon points="-5,-5 22,-5 22,110 -5,110" fill="rgb(255,255,255)" opacity="0.045" filter="url(#b6)"/>
<polygon points="-5,62 58,66 58,110 -5,110" fill="rgb(255,255,255)" opacity="0.055" filter="url(#b6)"/>
</g></svg>
<line x1="270.6" y1="383.8" x2="273.1" y2="383.8" stroke="#3cb83c" stroke-width="0.8" />
<line x1="273.1" y1="487.3" x2="273.1" y2="489.8" stroke="#3cb83c" stroke-width="0.8" />
<line x1="270.6" y1="409.675" x2="273.1" y2="409.675" stroke="#3cb83c" stroke-width="0.8" />
<line x1="299.1" y1="487.3" x2="299.1" y2="489.8" stroke="#3cb83c" stroke-width="0.8" />
<line x1="270.6" y1="435.55" x2="273.1" y2="435.55" stroke="#3cb83c" stroke-width="0.8" />
<line x1="325.1" y1="487.3" x2="325.1" y2="489.8" stroke="#3cb83c" stroke-width="0.8" />
<line x1="270.6" y1="461.425" x2="273.1" y2="461.425" stroke="#3cb83c" stroke-width="0.8" />
<line x1="351.1" y1="487.3" x2="351.1" y2="489.8" stroke="#3cb83c" stroke-width="0.8" />
<line x1="270.6" y1="487.3" x2="273.1" y2="487.3" stroke="#3cb83c" stroke-width="0.8" />
<line x1="377.1" y1="487.3" x2="377.1" y2="489.8" stroke="#3cb83c" stroke-width="0.8" />
<rect x="273.1" y="383.8" width="104" height="103.5" fill="none" stroke="#3cb83c" stroke-width="1.7"/>
<line x1="309.5" y1="383.8" x2="309.5" y2="487.3" stroke="#000" stroke-width="1.2" />
<line x1="273.1" y1="443.5" x2="377.1" y2="443.5" stroke="#000" stroke-width="1.2" />
<text x="274.40000000000003" y="392.8" font-size="10.5" text-anchor="start" >7.44</text>
<text x="376.6" y="392.8" font-size="10.5" text-anchor="end" >40</text>
<text x="274.40000000000003" y="486.0" font-size="10.5" text-anchor="start" >28.2</text>
<text x="376.6" y="486.0" font-size="10.5" text-anchor="end" >24.3</text>
<svg x="385.2" y="383.8" width="104.8" height="103.5" viewBox="0 0 104.8 103.5" overflow="hidden" opacity="0.72"><g filter="url(#cms)"><rect x="-5" y="-5" width="114.8" height="113.5" fill="#000"/>
<polygon points="-5,-5 110,-5 110,110 -5,110" fill="rgb(255,255,255)" opacity="0.02"/>
<ellipse cx="66" cy="34" rx="8" ry="12" fill="rgb(148,255,0)" opacity="0.24" transform="rotate(0 66 34)" filter="url(#b4)"/>
</g></svg>
<line x1="382.7" y1="383.8" x2="385.2" y2="383.8" stroke="#2a45c8" stroke-width="0.8" />
<line x1="385.2" y1="487.3" x2="385.2" y2="489.8" stroke="#2a45c8" stroke-width="0.8" />
<line x1="382.7" y1="409.675" x2="385.2" y2="409.675" stroke="#2a45c8" stroke-width="0.8" />
<line x1="411.4" y1="487.3" x2="411.4" y2="489.8" stroke="#2a45c8" stroke-width="0.8" />
<line x1="382.7" y1="435.55" x2="385.2" y2="435.55" stroke="#2a45c8" stroke-width="0.8" />
<line x1="437.59999999999997" y1="487.3" x2="437.59999999999997" y2="489.8" stroke="#2a45c8" stroke-width="0.8" />
<line x1="382.7" y1="461.425" x2="385.2" y2="461.425" stroke="#2a45c8" stroke-width="0.8" />
<line x1="463.79999999999995" y1="487.3" x2="463.79999999999995" y2="489.8" stroke="#2a45c8" stroke-width="0.8" />
<line x1="382.7" y1="487.3" x2="385.2" y2="487.3" stroke="#2a45c8" stroke-width="0.8" />
<line x1="490.0" y1="487.3" x2="490.0" y2="489.8" stroke="#2a45c8" stroke-width="0.8" />
<rect x="385.2" y="383.8" width="104.8" height="103.5" fill="none" stroke="#2a45c8" stroke-width="1.7"/>
<line x1="421.59999999999997" y1="383.8" x2="421.59999999999997" y2="487.3" stroke="#000" stroke-width="1.2" />
<line x1="385.2" y1="443.5" x2="490.0" y2="443.5" stroke="#000" stroke-width="1.2" />
<text x="386.5" y="392.8" font-size="10.5" text-anchor="start" >1.7</text>
<text x="489.5" y="392.8" font-size="10.5" text-anchor="end" >87.2</text>
<text x="386.5" y="486.0" font-size="10.5" text-anchor="start" >5.56</text>
<text x="489.5" y="486.0" font-size="10.5" text-anchor="end" >5.56</text>
<text x="2.5" y="539" font-size="18" text-anchor="start" >iv</text>
<line x1="35.5" y1="628" x2="35.5" y2="534.0" stroke="#000" stroke-width="3" />
<polygon points="35.5,526.5 31.3,535.0 39.7,535.0" fill="#000"/>
<text transform="translate(30 576) rotate(-90)" font-size="12.5" text-anchor="middle">CD34</text>
<line x1="45" y1="639" x2="483.0" y2="639" stroke="#000" stroke-width="3.2" />
<polygon points="490.5,639 482.0,634.8 482.0,643.2" fill="#000"/>
<text x="268" y="650.5" font-size="12.5" text-anchor="middle" >Lineage Markers</text>
<svg x="43.8" y="526.4" width="102.0" height="104" viewBox="0 0 102.0 104" overflow="hidden" opacity="1"><g filter="url(#cm)"><rect x="-5" y="-5" width="112.0" height="114" fill="#000"/>
<polygon points="-8,63 15,60.5 37,57.5 52,58.5 65,62 74,66.5 81,72.5 85.5,81 88,93 89,115 -8,115" fill="rgb(79,79,79)" opacity="1" filter="url(#b4)"/>
<ellipse cx="42" cy="93" rx="13" ry="14" fill="rgb(102,102,102)" transform="rotate(0 42 93)" filter="url(#b4)"/>
<polygon points="53,70 78,70 83,76 84.5,110 53,110" fill="rgb(119,119,119)" opacity="1" filter="url(#b1)"/>
<polygon points="56,74 75.5,74 80,80 80.5,110 56,110" fill="rgb(160,160,160)" opacity="1" filter="url(#b2)"/>
<ellipse cx="70.3" cy="93" rx="4" ry="12" fill="rgb(175,175,175)" transform="rotate(0 70.3 93)" filter="url(#b2)"/>
</g></svg>
<line x1="41.3" y1="526.4" x2="43.8" y2="526.4" stroke="#000" stroke-width="0.8" />
<line x1="43.8" y1="630.4" x2="43.8" y2="632.9" stroke="#000" stroke-width="0.8" />
<line x1="41.3" y1="552.4" x2="43.8" y2="552.4" stroke="#000" stroke-width="0.8" />
<line x1="69.3" y1="630.4" x2="69.3" y2="632.9" stroke="#000" stroke-width="0.8" />
<line x1="41.3" y1="578.4" x2="43.8" y2="578.4" stroke="#000" stroke-width="0.8" />
<line x1="94.8" y1="630.4" x2="94.8" y2="632.9" stroke="#000" stroke-width="0.8" />
<line x1="41.3" y1="604.4" x2="43.8" y2="604.4" stroke="#000" stroke-width="0.8" />
<line x1="120.3" y1="630.4" x2="120.3" y2="632.9" stroke="#000" stroke-width="0.8" />
<line x1="41.3" y1="630.4" x2="43.8" y2="630.4" stroke="#000" stroke-width="0.8" />
<line x1="145.8" y1="630.4" x2="145.8" y2="632.9" stroke="#000" stroke-width="0.8" />
<rect x="43.8" y="526.4" width="102.0" height="104" fill="none" stroke="#000" stroke-width="1.7"/>
<line x1="97.5" y1="526.4" x2="97.5" y2="630.4" stroke="#000" stroke-width="1.2" />
<line x1="43.8" y1="597.6" x2="145.8" y2="597.6" stroke="#000" stroke-width="1.2" />
<text x="45.099999999999994" y="535.4" font-size="10.5" text-anchor="start" >3.32</text>
<text x="145.3" y="535.4" font-size="10.5" text-anchor="end" >1.32</text>
<text x="45.099999999999994" y="629.1" font-size="10.5" text-anchor="start" >16.1</text>
<text x="145.3" y="629.1" font-size="10.5" text-anchor="end" >79.3</text>
<svg x="158.8" y="526.4" width="103.6" height="104" viewBox="0 0 103.6 104" overflow="hidden" opacity="1"><g filter="url(#cm)"><rect x="-5" y="-5" width="113.6" height="114" fill="#000"/>
<polygon points="-8,63 15,60.5 37,57.5 52,58.5 65,62 74,66.5 81,72.5 85.5,81 88,93 89,115 -8,115" fill="rgb(79,79,79)" opacity="1" filter="url(#b4)"/>
<ellipse cx="42" cy="93" rx="13" ry="14" fill="rgb(102,102,102)" transform="rotate(0 42 93)" filter="url(#b4)"/>
<polygon points="53,70 78,70 83,76 84.5,110 53,110" fill="rgb(119,119,119)" opacity="1" filter="url(#b1)"/>
<polygon points="56,74 75.5,74 80,80 80.5,110 56,110" fill="rgb(160,160,160)" opacity="1" filter="url(#b2)"/>
<ellipse cx="70.3" cy="93" rx="4" ry="12" fill="rgb(175,175,175)" transform="rotate(0 70.3 93)" filter="url(#b2)"/>
<ellipse cx="8" cy="95" rx="10" ry="14" fill="rgb(53,53,53)" transform="rotate(20 8 95)" filter="url(#b3)"/>
</g></svg>
<line x1="156.3" y1="526.4" x2="158.8" y2="526.4" stroke="#e8202a" stroke-width="0.8" />
<line x1="158.8" y1="630.4" x2="158.8" y2="632.9" stroke="#e8202a" stroke-width="0.8" />
<line x1="156.3" y1="552.4" x2="158.8" y2="552.4" stroke="#e8202a" stroke-width="0.8" />
<line x1="184.70000000000002" y1="630.4" x2="184.70000000000002" y2="632.9" stroke="#e8202a" stroke-width="0.8" />
<line x1="156.3" y1="578.4" x2="158.8" y2="578.4" stroke="#e8202a" stroke-width="0.8" />
<line x1="210.60000000000002" y1="630.4" x2="210.60000000000002" y2="632.9" stroke="#e8202a" stroke-width="0.8" />
<line x1="156.3" y1="604.4" x2="158.8" y2="604.4" stroke="#e8202a" stroke-width="0.8" />
<line x1="236.5" y1="630.4" x2="236.5" y2="632.9" stroke="#e8202a" stroke-width="0.8" />
<line x1="156.3" y1="630.4" x2="158.8" y2="630.4" stroke="#e8202a" stroke-width="0.8" />
<line x1="262.4" y1="630.4" x2="262.4" y2="632.9" stroke="#e8202a" stroke-width="0.8" />
<rect x="158.8" y="526.4" width="103.6" height="104" fill="none" stroke="#e8202a" stroke-width="1.7"/>
<line x1="212.5" y1="526.4" x2="212.5" y2="630.4" stroke="#000" stroke-width="1.2" />
<line x1="158.8" y1="597.6" x2="262.4" y2="597.6" stroke="#000" stroke-width="1.2" />
<text x="160.10000000000002" y="535.4" font-size="10.5" text-anchor="start" >3.33</text>
<text x="261.9" y="535.4" font-size="10.5" text-anchor="end" >1.32</text>
<text x="160.10000000000002" y="629.1" font-size="10.5" text-anchor="start" >15.6</text>
<text x="261.9" y="629.1" font-size="10.5" text-anchor="end" >79.7</text>
<svg x="273.0" y="526.4" width="104.4" height="104" viewBox="0 0 104.4 104" overflow="hidden" opacity="0.88"><g filter="url(#cms)"><rect x="-5" y="-5" width="114.4" height="114" fill="#000"/>
<polygon points="-5,-5 110,-5 110,110 -5,110" fill="rgb(255,255,255)" opacity="0.015"/>
<ellipse cx="38" cy="80" rx="16" ry="11" fill="rgb(107,255,0)" opacity="0.26" transform="rotate(0 38 80)" filter="url(#b4)"/>
<ellipse cx="75" cy="88" rx="8" ry="14" fill="rgb(89,255,0)" opacity="0.4" transform="rotate(0 75 88)" filter="url(#b3)"/>
<polygon points="-5,72 58,72 58,110 -5,110" fill="rgb(255,255,255)" opacity="0.075" filter="url(#b4)"/>
<polygon points="54,74 92,74 92,110 54,110" fill="rgb(255,255,255)" opacity="0.04" filter="url(#b4)"/>
</g></svg>
<line x1="270.5" y1="526.4" x2="273.0" y2="526.4" stroke="#3cb83c" stroke-width="0.8" />
<line x1="273.0" y1="630.4" x2="273.0" y2="632.9" stroke="#3cb83c" stroke-width="0.8" />
<line x1="270.5" y1="552.4" x2="273.0" y2="552.4" stroke="#3cb83c" stroke-width="0.8" />
<line x1="299.1" y1="630.4" x2="299.1" y2="632.9" stroke="#3cb83c" stroke-width="0.8" />
<line x1="270.5" y1="578.4" x2="273.0" y2="578.4" stroke="#3cb83c" stroke-width="0.8" />
<line x1="325.2" y1="630.4" x2="325.2" y2="632.9" stroke="#3cb83c" stroke-width="0.8" />
<line x1="270.5" y1="604.4" x2="273.0" y2="604.4" stroke="#3cb83c" stroke-width="0.8" />
<line x1="351.3" y1="630.4" x2="351.3" y2="632.9" stroke="#3cb83c" stroke-width="0.8" />
<line x1="270.5" y1="630.4" x2="273.0" y2="630.4" stroke="#3cb83c" stroke-width="0.8" />
<line x1="377.4" y1="630.4" x2="377.4" y2="632.9" stroke="#3cb83c" stroke-width="0.8" />
<rect x="273.0" y="526.4" width="104.4" height="104" fill="none" stroke="#3cb83c" stroke-width="1.7"/>
<line x1="326.7" y1="526.4" x2="326.7" y2="630.4" stroke="#000" stroke-width="1.2" />
<line x1="273.0" y1="597.6" x2="377.4" y2="597.6" stroke="#000" stroke-width="1.2" />
<text x="274.3" y="535.4" font-size="10.5" text-anchor="start" >2.66</text>
<text x="376.9" y="535.4" font-size="10.5" text-anchor="end" >0.93</text>
<text x="274.3" y="629.1" font-size="10.5" text-anchor="start" >45.3</text>
<text x="376.9" y="629.1" font-size="10.5" text-anchor="end" >51.1</text>
<svg x="385.0" y="526.4" width="104.5" height="104" viewBox="0 0 104.5 104" overflow="hidden" opacity="0.72"><g filter="url(#cms)"><rect x="-5" y="-5" width="114.5" height="114" fill="#000"/>
<ellipse cx="40" cy="84" rx="16" ry="8" fill="#fff" opacity="0.06" transform="rotate(0 40 84)" filter="url(#b4)"/>
<polygon points="-5,74 60,74 60,110 -5,110" fill="rgb(255,255,255)" opacity="0.05" filter="url(#b4)"/>
<polygon points="54,74 100,74 100,110 54,110" fill="rgb(255,255,255)" opacity="0.03" filter="url(#b4)"/>
</g></svg>
<line x1="382.5" y1="526.4" x2="385.0" y2="526.4" stroke="#2a45c8" stroke-width="0.8" />
<line x1="385.0" y1="630.4" x2="385.0" y2="632.9" stroke="#2a45c8" stroke-width="0.8" />
<line x1="382.5" y1="552.4" x2="385.0" y2="552.4" stroke="#2a45c8" stroke-width="0.8" />
<line x1="411.125" y1="630.4" x2="411.125" y2="632.9" stroke="#2a45c8" stroke-width="0.8" />
<line x1="382.5" y1="578.4" x2="385.0" y2="578.4" stroke="#2a45c8" stroke-width="0.8" />
<line x1="437.25" y1="630.4" x2="437.25" y2="632.9" stroke="#2a45c8" stroke-width="0.8" />
<line x1="382.5" y1="604.4" x2="385.0" y2="604.4" stroke="#2a45c8" stroke-width="0.8" />
<line x1="463.375" y1="630.4" x2="463.375" y2="632.9" stroke="#2a45c8" stroke-width="0.8" />
<line x1="382.5" y1="630.4" x2="385.0" y2="630.4" stroke="#2a45c8" stroke-width="0.8" />
<line x1="489.5" y1="630.4" x2="489.5" y2="632.9" stroke="#2a45c8" stroke-width="0.8" />
<rect x="385.0" y="526.4" width="104.5" height="104" fill="none" stroke="#2a45c8" stroke-width="1.7"/>
<line x1="438.7" y1="526.4" x2="438.7" y2="630.4" stroke="#000" stroke-width="1.2" />
<line x1="385.0" y1="597.6" x2="489.5" y2="597.6" stroke="#000" stroke-width="1.2" />
<text x="386.3" y="535.4" font-size="10.5" text-anchor="start" >1.88</text>
<text x="489.0" y="535.4" font-size="10.5" text-anchor="end" >0</text>
<text x="386.3" y="629.1" font-size="10.5" text-anchor="start" >86.8</text>
<text x="489.0" y="629.1" font-size="10.5" text-anchor="end" >11.3</text>
</svg></body></html>
